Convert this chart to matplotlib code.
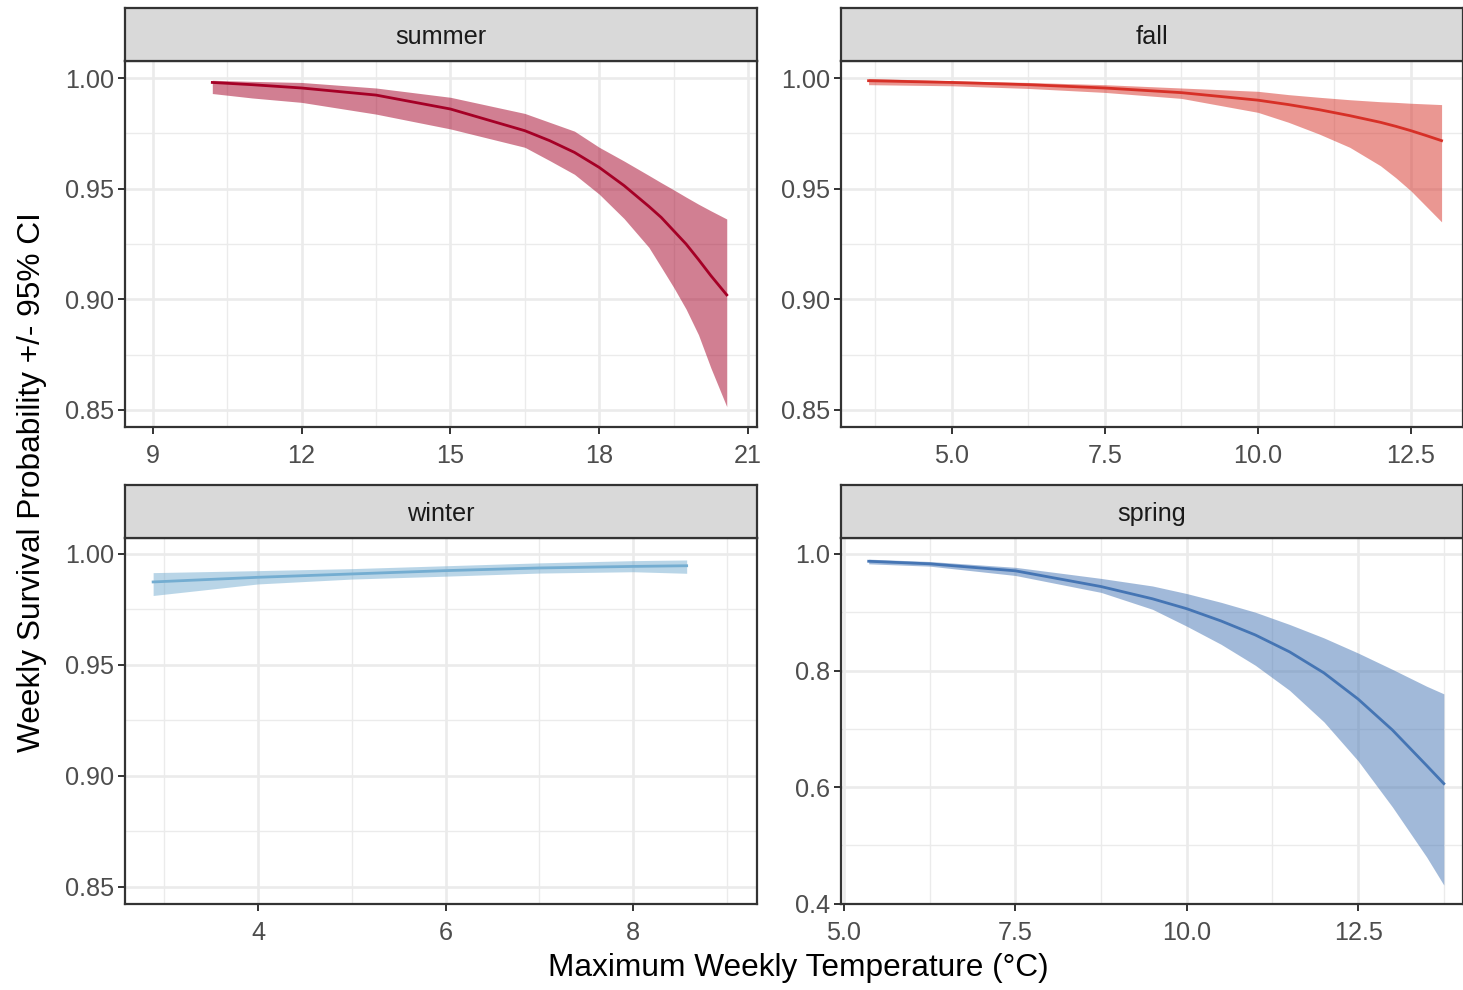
import matplotlib
matplotlib.use("Agg")
import matplotlib.pyplot as plt
from matplotlib.ticker import FixedLocator

plt.rcParams['font.family'] = ['Liberation Sans', 'DejaVu Sans']

# ---------------- data ----------------
summer_x = [10.2, 11.0, 12.0, 13.5, 15.0, 16.5, 17.0, 17.5, 18.0, 18.5, 19.0, 19.25, 19.5, 19.75, 20.0, 20.25, 20.57]
summer_mean = [0.998, 0.997, 0.9955, 0.9923, 0.986, 0.9762, 0.9717, 0.9664, 0.9596, 0.9514, 0.942, 0.937, 0.931, 0.925, 0.918, 0.9107, 0.902]
summer_upper = [0.999, 0.9985, 0.998, 0.9955, 0.9913, 0.984, 0.980, 0.976, 0.9687, 0.9625, 0.956, 0.9527, 0.9495, 0.9462, 0.943, 0.940, 0.9363]
summer_lower = [0.993, 0.991, 0.989, 0.9837, 0.977, 0.9687, 0.9627, 0.9565, 0.9475, 0.9365, 0.9235, 0.9145, 0.9054, 0.8956, 0.884, 0.869, 0.8515]

fall_x = [3.64, 5.0, 6.25, 7.5, 8.75, 10.0, 10.5, 11.0, 11.5, 12.0, 12.25, 12.5, 12.75, 13.0]
fall_mean = [0.9988, 0.998, 0.997, 0.9955, 0.9934, 0.990, 0.988, 0.9857, 0.983, 0.980, 0.9782, 0.9762, 0.974, 0.9717]
fall_upper = [0.9998, 0.9988, 0.998, 0.997, 0.9955, 0.994, 0.9925, 0.9913, 0.9902, 0.9893, 0.989, 0.9886, 0.9883, 0.988]
fall_lower = [0.997, 0.9965, 0.9953, 0.9935, 0.9908, 0.9845, 0.980, 0.9747, 0.9687, 0.9604, 0.955, 0.949, 0.942, 0.935]

winter_x = [2.88, 4.0, 5.0, 6.0, 7.0, 8.0, 8.57]
winter_mean = [0.9874, 0.9895, 0.991, 0.9925, 0.9937, 0.9944, 0.9947]
winter_upper = [0.9916, 0.9925, 0.9934, 0.9947, 0.996, 0.997, 0.9973]
winter_lower = [0.9813, 0.9865, 0.9887, 0.9900, 0.9914, 0.992, 0.9913]

spring_x = [5.36, 6.25, 7.5, 8.75, 9.5, 10.0, 10.5, 11.0, 11.5, 12.0, 12.5, 13.0, 13.5, 13.75]
spring_mean = [0.9874, 0.983, 0.971, 0.944, 0.923, 0.906, 0.885, 0.861, 0.832, 0.796, 0.751, 0.698, 0.637, 0.606]
spring_upper = [0.991, 0.987, 0.977, 0.958, 0.945, 0.932, 0.917, 0.900, 0.879, 0.856, 0.830, 0.802, 0.773, 0.760]
spring_lower = [0.983, 0.979, 0.963, 0.934, 0.905, 0.876, 0.845, 0.809, 0.766, 0.712, 0.645, 0.566, 0.480, 0.432]

season_names = ["summer", "fall", "winter", "spring"]
season_colors = ["#A50026", "#D73027", "#74ADD1", "#4575B4"]

W, H = 1463, 990
fig = plt.figure(figsize=(W / 100, H / 100), dpi=100)

def fx(px):
    return px / W

def fy(py):
    return 1 - py / H

BORDER = "#333333"
GRID = "#ebebeb"
TICKC = "#4d4d4d"
TICKFS = 18.2

panels = [
    dict(x=summer_x, m=summer_mean, lo=summer_lower, hi=summer_upper,
         box=(125, 757, 61, 427), stop=8, xlim=(8.44, 21.18), ylim=(0.8423, 1.0077),
         xmaj=[9, 12, 15, 18, 21], xmin=[10.5, 13.5, 16.5, 19.5],
         ymaj=[0.85, 0.90, 0.95, 1.00], ymin=[0.875, 0.925, 0.975], fmt="{:.2f}", xfmt="{:g}"),
    dict(x=fall_x, m=fall_mean, lo=fall_lower, hi=fall_upper,
         box=(841, 1463, 61, 427), stop=8, xlim=(3.19, 13.35), ylim=(0.8423, 1.0077),
         xmaj=[5.0, 7.5, 10.0, 12.5], xmin=[3.75, 6.25, 8.75, 11.25],
         ymaj=[0.85, 0.90, 0.95, 1.00], ymin=[0.875, 0.925, 0.975], fmt="{:.2f}", xfmt="{:.1f}"),
    dict(x=winter_x, m=winter_mean, lo=winter_lower, hi=winter_upper,
         box=(125, 757, 538, 904), stop=485, xlim=(2.58, 9.32), ylim=(0.8423, 1.0072),
         xmaj=[4, 6, 8], xmin=[3, 5, 7, 9],
         ymaj=[0.85, 0.90, 0.95, 1.00], ymin=[0.875, 0.925, 0.975], fmt="{:.2f}", xfmt="{:g}"),
    dict(x=spring_x, m=spring_mean, lo=spring_lower, hi=spring_upper,
         box=(841, 1463, 538, 904), stop=485, xlim=(4.956, 14.03), ylim=(0.3995, 1.0273),
         xmaj=[5.0, 7.5, 10.0, 12.5], xmin=[6.25, 8.75, 11.25, 13.75],
         ymaj=[0.4, 0.6, 0.8, 1.0], ymin=[0.5, 0.7, 0.9], fmt="{:.1f}", xfmt="{:.1f}"),
]

for name, p, col in zip(season_names, panels, season_colors):
    l, r, t, b = p["box"]
    ax = fig.add_axes([fx(l), fy(b), fx(r) - fx(l), fy(t) - fy(b)])
    ax.set_xlim(*p["xlim"])
    ax.set_ylim(*p["ylim"])
    for v in p["xmin"]:
        ax.axvline(v, color=GRID, lw=1.0, zorder=0)
    for v in p["ymin"]:
        ax.axhline(v, color=GRID, lw=1.0, zorder=0)
    for v in p["xmaj"]:
        ax.axvline(v, color=GRID, lw=1.9, zorder=0)
    for v in p["ymaj"]:
        ax.axhline(v, color=GRID, lw=1.9, zorder=0)
    ax.fill_between(p["x"], p["lo"], p["hi"], color=col, alpha=0.5, lw=0, zorder=2)
    ax.plot(p["x"], p["m"], color=col, lw=2.0, zorder=3, solid_joinstyle="round")
    ax.xaxis.set_major_locator(FixedLocator(p["xmaj"]))
    ax.yaxis.set_major_locator(FixedLocator(p["ymaj"]))
    ax.set_xticklabels([p["xfmt"].format(v) for v in p["xmaj"]])
    ax.set_yticklabels([p["fmt"].format(v) for v in p["ymaj"]])
    ax.tick_params(axis="both", length=5, width=1.4, color=BORDER, labelcolor=TICKC,
                   labelsize=TICKFS)
    ax.tick_params(axis="x", pad=7)
    ax.tick_params(axis="y", pad=3)
    for s in ax.spines.values():
        s.set_color(BORDER)
        s.set_linewidth(1.6)
    # strip
    st = p["stop"]
    sax = fig.add_axes([fx(l), fy(t), fx(r) - fx(l), fy(st) - fy(t)])
    sax.set_facecolor("#d9d9d9")
    sax.set_xticks([])
    sax.set_yticks([])
    for s in sax.spines.values():
        s.set_color(BORDER)
        s.set_linewidth(1.6)
    sax.text(0.5, 0.45, name, ha="center", va="center", fontsize=TICKFS,
             color="#1a1a1a", transform=sax.transAxes)

fig.text(fx(32), fy(482), "Weekly Survival Probability +/- 95% CI", rotation=90,
         ha="center", va="center", fontsize=22.8, color="black")
fig.text(fx(798), fy(968), "Maximum Weekly Temperature (°C)", ha="center", va="center",
         fontsize=22.8, color="black")

fig.savefig("out.png", dpi=100, facecolor="white")
